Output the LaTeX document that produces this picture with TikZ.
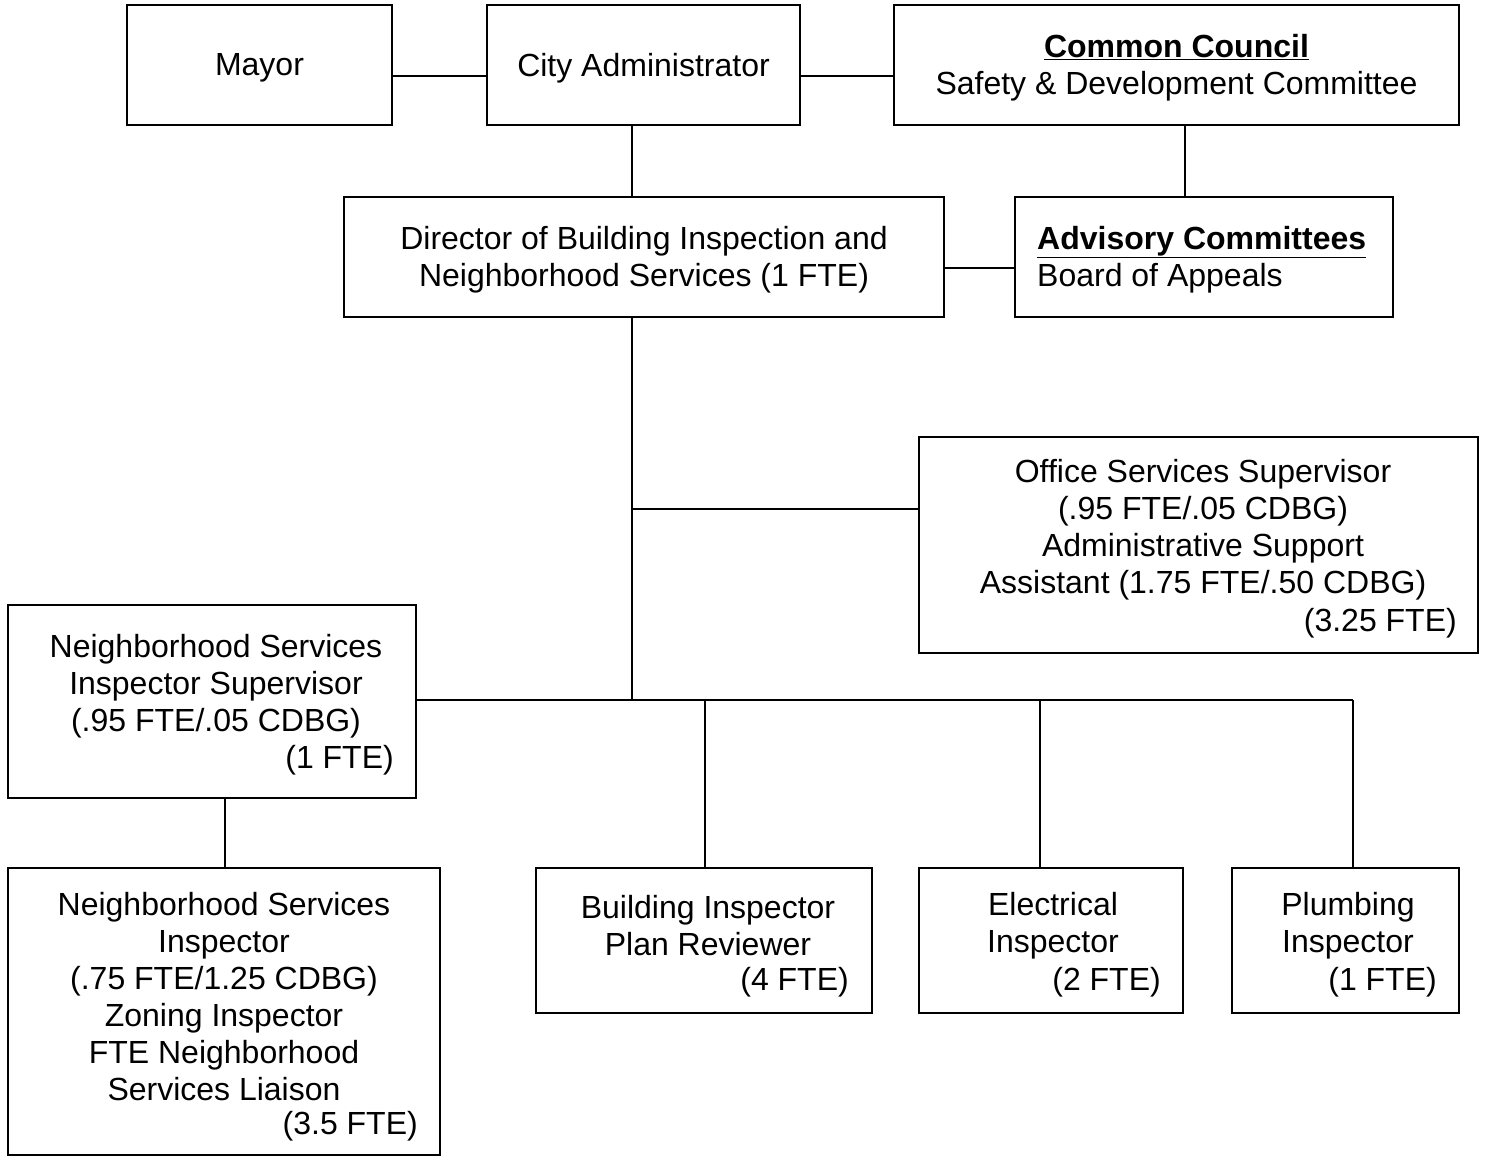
\documentclass[tikz,border=0pt]{standalone}
\usepackage{fontspec}
\setmainfont{Liberation Sans}
\newcommand{\ulbf}[1]{\underline{\textbf{#1}}}
\begin{document}
\begin{tikzpicture}[x=1pt,y=-1pt,
  box/.style={draw,line width=2pt,inner sep=0pt},
  txt/.style={inner sep=0pt,align=center,font=\fontsize{32}{37}\selectfont},
  rtxt/.style={inner sep=0pt,anchor=base east,font=\fontsize{32}{37}\selectfont},
  conn/.style={line width=2pt}]
\useasboundingbox[fill=white] (0,0) rectangle (1486,1156);
% boxes
\node[box,minimum width=265pt,minimum height=120pt] (mayor) at (259.5,65) {};
\node[box,minimum width=313pt,minimum height=120pt] (admin) at (643.5,65) {};
\node[box,minimum width=565pt,minimum height=120pt] (common) at (1176.5,65) {};
\node[box,minimum width=600pt,minimum height=120pt] (director) at (644,257) {};
\node[box,minimum width=378pt,minimum height=120pt] (advisory) at (1204,257) {};
\node[box,minimum width=559pt,minimum height=216pt] (office) at (1198.5,545) {};
\node[box,minimum width=408pt,minimum height=193pt] (sup) at (212,701.5) {};
\node[box,minimum width=432pt,minimum height=287pt] (nsi) at (224,1011.5) {};
\node[box,minimum width=336pt,minimum height=145pt] (build) at (704,940.5) {};
\node[box,minimum width=264pt,minimum height=145pt] (elec) at (1051,940.5) {};
\node[box,minimum width=227pt,minimum height=145pt] (plumb) at (1345.5,940.5) {};
% texts
\node[txt] (tmayor) at (259.5,68) {Mayor};
\node[txt] (tadmin) at (643.5,68) {City Administrator};
\node[txt] (tcommon) at (1176.5,67.5) {\ulbf{Common Council}\\Safety \& Development Committee};
\node[txt] (tdirector) at (644,259.5) {Director of Building Inspection and\\Neighborhood Services (1 FTE)};
\node[txt,align=left,anchor=west] (tadvisory) at (1037,259.5) {\ulbf{Advisory Committees}\\Board of Appeals};
\node[txt] (toffice) at (1203,529.5) {Office Services Supervisor\\(.95 FTE/.05 CDBG)\\Administrative Support\\Assistant (1.75 FTE/.50 CDBG)};
\node[rtxt] (toffice2) at (1457,631) {(3.25 FTE)};
\node[txt] (tsup) at (216,686) {Neighborhood Services\\Inspector Supervisor\\(.95 FTE/.05 CDBG)};
\node[rtxt] (tsup2) at (394,768) {(1 FTE)};
\node[txt] (tnsi) at (224,997) {Neighborhood Services\\Inspector\\(.75 FTE/1.25 CDBG)\\Zoning Inspector\\FTE Neighborhood\\Services Liaison};
\node[rtxt] (tnsi2) at (418,1134) {(3.5 FTE)};
\node[txt] (tbuild) at (708,925.5) {Building Inspector\\Plan Reviewer};
\node[rtxt] (tbuild2) at (849,990) {(4 FTE)};
\node[txt] (telec) at (1053,925.5) {Electrical\\Inspector};
\node[rtxt] (telec2) at (1161,990) {(2 FTE)};
\node[txt] (tplumb) at (1348,925.5) {Plumbing\\Inspector};
\node[rtxt] (tplumb2) at (1437,990) {(1 FTE)};
% reference coordinates
\coordinate (xa) at (632,0);
\coordinate (xc) at (1185,0);
\coordinate (hub) at (632,700);
\coordinate (b1) at (632,509);
\coordinate (xb) at (705,700);
\coordinate (xe) at (1040,700);
\coordinate (xp) at (1353,700);
\coordinate (xs) at (225,0);
% connectors
\draw[conn] ([yshift=-11pt]mayor.east) -- ([yshift=-11pt]admin.west);
\draw[conn] ([yshift=-11pt]admin.east) -- ([yshift=-11pt]common.west);
\draw[conn] (admin.south -| xa) -- (director.north -| xa);
\draw[conn] (common.south -| xc) -- (advisory.north -| xc);
\draw[conn] ([yshift=-11pt]director.east) -- ([yshift=-11pt]advisory.west);
\draw[conn] (director.south -| xa) -- (hub);
\draw[conn] (b1) -- (office.west |- b1);
\draw[conn] (sup.east |- hub) -- (xp);
\draw[conn] (xb) -- (build.north -| xb);
\draw[conn] (xe) -- (elec.north -| xe);
\draw[conn] (xp) -- (plumb.north -| xp);
\draw[conn] (sup.south -| xs) -- (nsi.north -| xs);
\end{tikzpicture}
\end{document}
